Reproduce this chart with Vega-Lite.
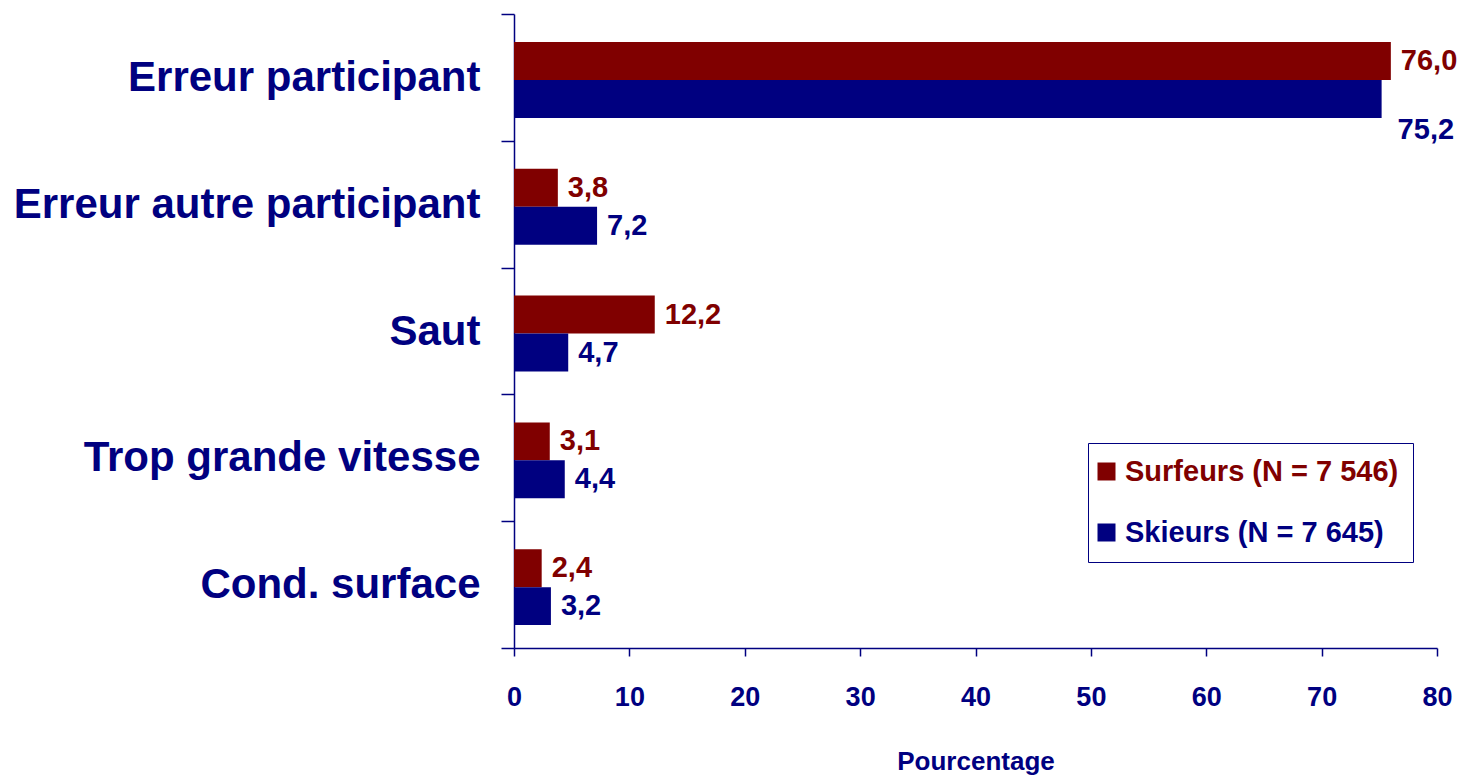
{
  "$schema": "https://vega.github.io/schema/vega-lite/v6.json",
  "autosize": "none",
  "width": 923,
  "height": 634,
  "padding": {"left": 514, "top": 14, "right": 25, "bottom": 132},
  "background": "white",
  "config": {
    "view": {"stroke": null},
    "locale": {"number": {"decimal": ",", "thousands": " ", "grouping": [3], "currency": ["", " €"]}},
    "font": "Liberation Sans"
  },
  "data": {
    "values": [
      {"cause": "Erreur participant", "group": "Surfeurs (N = 7 546)", "value": 76.0},
      {"cause": "Erreur participant", "group": "Skieurs (N = 7 645)", "value": 75.2},
      {"cause": "Erreur autre participant", "group": "Surfeurs (N = 7 546)", "value": 3.8},
      {"cause": "Erreur autre participant", "group": "Skieurs (N = 7 645)", "value": 7.2},
      {"cause": "Saut", "group": "Surfeurs (N = 7 546)", "value": 12.2},
      {"cause": "Saut", "group": "Skieurs (N = 7 645)", "value": 4.7},
      {"cause": "Trop grande vitesse", "group": "Surfeurs (N = 7 546)", "value": 3.1},
      {"cause": "Trop grande vitesse", "group": "Skieurs (N = 7 645)", "value": 4.4},
      {"cause": "Cond. surface", "group": "Surfeurs (N = 7 546)", "value": 2.4},
      {"cause": "Cond. surface", "group": "Skieurs (N = 7 645)", "value": 3.2}
    ]
  },
  "encoding": {
    "y": {
      "field": "cause",
      "type": "nominal",
      "sort": ["Erreur participant", "Erreur autre participant", "Saut", "Trop grande vitesse", "Cond. surface"],
      "scale": {"padding": 0},
      "axis": {
        "title": null,
        "tickBand": "extent",
        "tickSize": 13,
        "tickColor": "#000080",
        "tickWidth": 1.5,
        "domainColor": "#000080",
        "domainWidth": 1.5,
        "labelFont": "Liberation Sans",
        "labelFontWeight": "bold",
        "labelFontSize": 42,
        "labelColor": "#000080",
        "labelPadding": 21,
        "labelLimit": 600
      }
    },
    "yOffset": {
      "field": "group",
      "type": "nominal",
      "sort": ["Surfeurs (N = 7 546)", "Skieurs (N = 7 645)"],
      "scale": {"paddingOuter": 0.67, "paddingInner": 0, "align": 0.55}
    },
    "x": {
      "field": "value",
      "type": "quantitative",
      "scale": {"domain": [0, 80], "nice": false},
      "axis": {
        "title": "Pourcentage",
        "values": [0, 10, 20, 30, 40, 50, 60, 70, 80],
        "grid": false,
        "labelFlush": false,
        "tickSize": 8,
        "tickColor": "#000080",
        "tickWidth": 1.5,
        "domainColor": "#000080",
        "domainWidth": 1.5,
        "labelFont": "Liberation Sans",
        "labelFontWeight": "bold",
        "labelFontSize": 27,
        "labelColor": "#000080",
        "labelPadding": 28,
        "titleFont": "Liberation Sans",
        "titleFontWeight": "bold",
        "titleFontSize": 26,
        "titleColor": "#000080",
        "titlePadding": 38
      }
    },
    "color": {
      "field": "group",
      "type": "nominal",
      "scale": {"domain": ["Surfeurs (N = 7 546)", "Skieurs (N = 7 645)"], "range": ["#800000", "#000080"]}
    }
  },
  "layer": [
    {
      "mark": {"type": "bar"},
      "encoding": {
        "color": {
          "field": "group",
          "type": "nominal",
          "scale": {"domain": ["Surfeurs (N = 7 546)", "Skieurs (N = 7 645)"], "range": ["#800000", "#000080"]},
          "legend": {
            "title": null,
            "orient": "none",
            "legendX": 574,
            "legendY": 429,
            "direction": "vertical",
            "fillColor": "white",
            "strokeColor": "#000080",
            "padding": 14,
            "rowPadding": 31,
            "symbolType": "square",
            "symbolSize": 324,
            "symbolStrokeWidth": 0,
            "symbolOpacity": 1,
            "symbolOffset": -10,
            "labelFont": "Liberation Sans",
            "labelFontWeight": "bold",
            "labelFontSize": 29,
            "labelLimit": 600,
            "labelOffset": 4,
            "encode": {
              "labels": {
                "update": {
                  "fill": [
                    {"test": "datum.value === 'Surfeurs (N = 7 546)'", "value": "#800000"},
                    {"value": "#000080"}
                  ]
                }
              }
            }
          }
        }
      }
    },
    {
      "transform": [{"filter": "!(datum.value > 70 && datum.group === 'Skieurs (N = 7 645)')"}],
      "mark": {"type": "text", "align": "left", "baseline": "middle", "dx": 10, "font": "Liberation Sans", "fontWeight": "bold", "fontSize": 29},
      "encoding": {
        "text": {"field": "value", "type": "quantitative", "format": ".1f"},
        "color": {"field": "group", "type": "nominal", "legend": null}
      }
    },
    {
      "transform": [{"filter": "datum.value > 70 && datum.group === 'Skieurs (N = 7 645)'"}],
      "mark": {"type": "text", "align": "left", "baseline": "middle", "dx": 16, "dy": 31, "font": "Liberation Sans", "fontWeight": "bold", "fontSize": 29},
      "encoding": {
        "text": {"field": "value", "type": "quantitative", "format": ".1f"},
        "color": {"field": "group", "type": "nominal", "legend": null}
      }
    }
  ]
}
